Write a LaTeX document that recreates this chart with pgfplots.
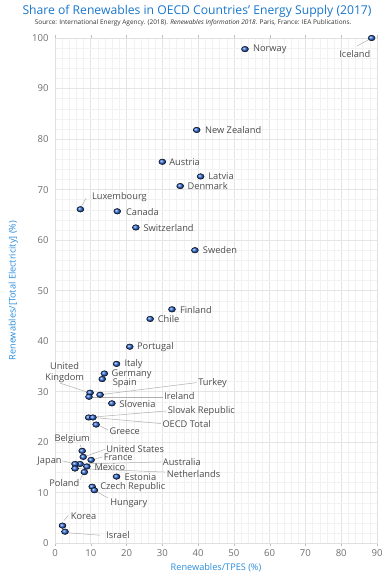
\documentclass[border=0pt]{standalone}
\usepackage{fontspec}
\setmainfont{Open Sans}
\usepackage{pgfplots}
\pgfplotsset{compat=1.18}
\definecolor{ttl}{RGB}{24,118,204}
\definecolor{axl}{RGB}{40,140,220}
\definecolor{tickc}{RGB}{110,110,110}
\definecolor{lblc}{RGB}{75,75,75}
\definecolor{ballc}{RGB}{45,105,215}
\definecolor{connc}{RGB}{175,175,175}
\pgfplotstableread{
x y
88.5 100.0
53.1 97.8
39.6 81.8
30.0 75.5
40.7 72.6
35.0 70.7
7.1 66.1
17.4 65.7
22.6 62.5
39.1 58.0
32.7 46.3
26.6 44.4
20.9 38.9
17.2 35.5
13.8 33.6
13.2 32.5
9.8 29.8
9.5 29.0
12.6 29.4
15.9 27.7
9.4 24.9
10.6 24.9
11.5 23.5
7.6 18.3
7.9 17.1
10.1 16.5
7.0 15.7
5.6 15.7
8.9 15.2
5.6 14.8
8.2 14.1
17.2 13.2
10.4 11.2
11.0 10.5
2.1 3.5
2.8 2.3
}\datatable
\begin{document}
\begin{tikzpicture}[
  lbl/.style={font=\fontsize{9.3}{11}\selectfont, text=lblc, inner sep=0pt},
  conn/.style={draw=connc, line width=0.5pt},
]
\begin{axis}[
  scale only axis, width=322bp, height=505.3bp,
  xmin=0, xmax=90, ymin=0, ymax=100,
  xtick={0,10,...,90}, ytick={0,10,...,100},
  minor x tick num=4, minor y tick num=4,
  grid=both,
  major grid style={draw=black!10, line width=0.6pt},
  minor grid style={draw=black!5, line width=0.4pt},
  axis line style={draw=black!12},
  tick align=outside, major tick length=3bp, minor tick length=0pt,
  xtick style={draw=black!25},
  ytick style={draw=none},
  ticklabel style={font=\fontsize{9.6}{11}\selectfont, text=tickc},
  /pgf/number format/assume math mode=true,
  clip=false,
  xlabel={Renewables/TPES (\%)},
  ylabel={Renewables/[Total Electricity] (\%)},
  label style={font=\fontsize{9.2}{11}\selectfont, text=axl},
  xlabel style={at={(axis description cs:0.5,-0.049)}, anchor=center},
  ylabel style={at={(axis description cs:-0.130,0.5)}, anchor=center},
]
% connectors
\draw[conn] (axis cs:84.4,98.4) -- (axis cs:88.5,100.0);
\draw[conn] (axis cs:8.7,68.3) -- (axis cs:7.3,66.6);
\draw[conn] (axis cs:1.4,31.7) -- (axis cs:9.2,29.9);
\draw[conn] (axis cs:39.6,31.8) -- (axis cs:12.6,29.4);
\draw[conn] (axis cs:30.2,29.0) -- (axis cs:9.5,29.0);
\draw[conn] (axis cs:31.2,26.2) -- (axis cs:9.4,24.9);
\draw[conn] (axis cs:29.6,23.7) -- (axis cs:10.6,24.9);
\draw[conn] (axis cs:14.9,22.4) -- (axis cs:12.6,23.2);
\draw[conn] (axis cs:7.0,19.5) -- (axis cs:7.5,18.7);
\draw[conn] (axis cs:14.0,18.6) -- (axis cs:8.9,17.3);
\draw[conn] (axis cs:13.3,17.1) -- (axis cs:10.7,16.6);
\draw[conn] (axis cs:29.8,16.1) -- (axis cs:7.0,15.7);
\draw[conn] (axis cs:2.3,16.3) -- (axis cs:5.1,15.8);
\draw[conn] (axis cs:30.7,14.1) -- (axis cs:5.6,14.8);
\draw[conn] (axis cs:7.0,12.5) -- (axis cs:7.9,13.9);
\draw[conn] (axis cs:14.7,9.0) -- (axis cs:11.7,10.2);
\draw[conn] (axis cs:3.7,5.5) -- (axis cs:2.5,4.5);
\draw[conn] (axis cs:12.6,1.6) -- (axis cs:3.3,2.1);

\addplot[only marks, mark=ball, mark size=3.5bp, mark options={ball color=ballc, yscale=0.8}] table {\datatable};

% labels
\node[lbl, anchor=west] at (axis cs:55.3,97.7) {Norway};
\node[lbl, anchor=center] at (axis cs:83.8,96.8) {Iceland};
\node[lbl, anchor=west] at (axis cs:41.9,81.8) {New Zealand};
\node[lbl, anchor=west] at (axis cs:31.9,75.5) {Austria};
\node[lbl, anchor=west] at (axis cs:42.8,72.6) {Latvia};
\node[lbl, anchor=west] at (axis cs:37.0,70.7) {Denmark};
\node[lbl, anchor=west] at (axis cs:10.3,68.5) {Luxembourg};
\node[lbl, anchor=west] at (axis cs:19.8,65.5) {Canada};
\node[lbl, anchor=west] at (axis cs:24.7,62.3) {Switzerland};
\node[lbl, anchor=west] at (axis cs:41.3,58.0) {Sweden};
\node[lbl, anchor=west] at (axis cs:34.9,46.2) {Finland};
\node[lbl, anchor=west] at (axis cs:28.7,44.3) {Chile};
\node[lbl, anchor=west] at (axis cs:22.9,38.9) {Portugal};
\node[lbl, anchor=west] at (axis cs:19.4,35.5) {Italy};
\node[lbl, anchor=west] at (axis cs:15.8,33.5) {Germany};
\node[lbl, anchor=west] at (axis cs:16.1,31.6) {Spain};
\node[lbl, anchor=center, align=center] at (axis cs:2.7,33.8) {United\\Kingdom};
\node[lbl, anchor=west] at (axis cs:40.0,31.7) {Turkey};
\node[lbl, anchor=west] at (axis cs:30.5,29.1) {Ireland};
\node[lbl, anchor=west] at (axis cs:18.0,27.6) {Slovenia};
\node[lbl, anchor=west] at (axis cs:31.5,26.2) {Slovak Republic};
\node[lbl, anchor=west] at (axis cs:30.0,23.7) {OECD Total};
\node[lbl, anchor=west] at (axis cs:15.2,22.1) {Greece};
\node[lbl, anchor=center] at (axis cs:4.8,20.6) {Belgium};
\node[lbl, anchor=west] at (axis cs:14.3,18.7) {United States};
\node[lbl, anchor=west] at (axis cs:13.6,17.0) {France};
\node[lbl, anchor=west] at (axis cs:30.1,16.1) {Australia};
\node[lbl, anchor=east] at (axis cs:1.9,16.3) {Japan};
\node[lbl, anchor=west] at (axis cs:11.0,15.0) {Mexico};
\node[lbl, anchor=west] at (axis cs:31.2,13.7) {Netherlands};
\node[lbl, anchor=center] at (axis cs:2.6,12.0) {Poland};
\node[lbl, anchor=west] at (axis cs:19.4,13.1) {Estonia};
\node[lbl, anchor=west] at (axis cs:12.6,11.1) {Czech Republic};
\node[lbl, anchor=west] at (axis cs:15.4,7.9) {Hungary};
\node[lbl, anchor=west] at (axis cs:4.4,5.4) {Korea};
\node[lbl, anchor=west] at (axis cs:14.3,1.6) {Israel};

% titles
\node[font=\fontsize{12.2}{14}\selectfont, text=ttl, anchor=center] at (axis description cs:0.441,1.052) {Share of Renewables in OECD Countries’ Energy Supply (2017)};
\node[font=\fontsize{6.5}{8}\selectfont, text=black!80, anchor=center] at (axis description cs:0.429,1.030) {Source: International Energy Agency. (2018). \textit{Renewables Information 2018}. Paris, France: IEA Publications.};
\end{axis}
\pgfresetboundingbox
\path[use as bounding box] (-55bp,-38.7bp) rectangle (337bp,543.3bp);
\end{tikzpicture}
\end{document}
